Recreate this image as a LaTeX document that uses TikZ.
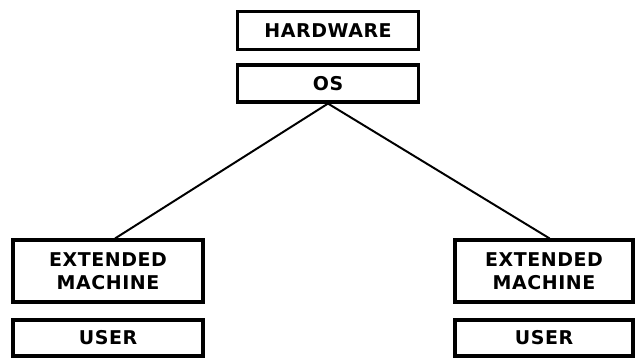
\documentclass[tikz,border=0pt]{standalone}
\usepackage{fontspec}
\newfontfamily\boxfont{DejaVu Sans}[LetterSpace=3]
\begin{document}
\begin{tikzpicture}[x=0.025cm, y=-0.025cm,
    layer/.style={draw, line width=2.2pt, rectangle, inner sep=0pt, align=center,
        font=\boxfont\bfseries\fontsize{13.5}{16.5}\selectfont},
    link/.style={line width=1.4pt}]

    \useasboundingbox (0,0) rectangle (635,358);

    % Top of the stack
    \node[layer, minimum width=4.525cm, minimum height=0.95cm] (hw) at (328,30.5) {HARDWARE};
    \node[layer, minimum width=4.525cm, minimum height=0.925cm] (os) at (328,83.5) {OS};

    % Left branch
    \node[layer, minimum width=4.75cm, minimum height=1.55cm] (extL) at (108,271) {EXTENDED\\MACHINE};
    \node[layer, minimum width=4.75cm, minimum height=0.9cm] (userL) at (108,338) {USER};

    % Right branch
    \node[layer, minimum width=4.45cm, minimum height=1.55cm] (extR) at (544,271) {EXTENDED\\MACHINE};
    \node[layer, minimum width=4.45cm, minimum height=0.9cm] (userR) at (544,338) {USER};

    % Links from the OS down to each machine
    \draw[link] (os.south) -- ([xshift=5]extL.north);
    \draw[link] (os.south) -- ([xshift=4]extR.north);
\end{tikzpicture}
\end{document}
